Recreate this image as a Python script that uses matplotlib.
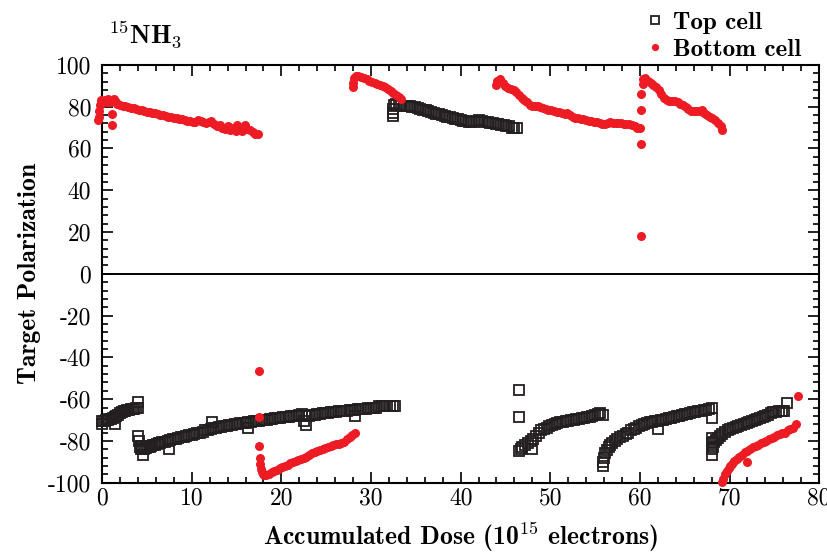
import numpy as np
import matplotlib.pyplot as plt
from matplotlib.ticker import MultipleLocator, FuncFormatter
from matplotlib.transforms import ScaledTranslation

plt.rcParams['font.family'] = 'cmr10'
plt.rcParams['mathtext.fontset'] = 'cm'
plt.rcParams['axes.unicode_minus'] = False
plt.rcParams['axes.formatter.use_mathtext'] = True

# Top cell polarization vs accumulated dose (one row per anneal/run)
top_dose = [
    0.0, 0.0, 0.2, 0.4, 0.6, 0.8, 1.0, 1.2, 1.4, 1.4, 1.6, 1.8, 2.0, 2.2, 2.4, 2.6, 2.8, 3.0, 3.2, 3.4, 3.6, 3.8, 4.0, 4.0,
    4.0, 4.1, 4.2, 4.3, 4.5, 4.6, 4.7, 4.9, 5.1, 5.3, 5.5, 5.7, 5.9, 6.1, 6.3, 6.5, 6.7, 7.0, 7.3, 7.5, 7.6, 7.9, 8.2, 8.5,
    8.8, 9.1, 9.4, 9.7, 10.0, 10.3, 10.6, 10.9, 11.2, 11.5, 11.8, 12.1, 12.3, 12.4, 12.7, 13.0, 13.3, 13.6, 13.9, 14.2,
    14.5, 14.8, 15.1, 15.4, 15.7, 16.0, 16.3, 16.3, 16.6, 16.9, 17.2, 17.5, 17.8, 18.1, 18.4, 18.7, 19.0, 19.3, 19.6,
    19.9, 20.2, 20.5, 20.8, 21.1, 21.4, 21.7, 22.0, 22.3, 22.5, 22.8, 22.8, 23.1, 23.4, 23.7, 24.0, 24.3, 24.6, 24.9,
    25.2, 25.5, 25.8, 26.1, 26.4, 26.7, 27.0, 27.3, 27.6, 27.9, 28.2, 28.2, 28.5, 28.8, 29.1, 29.4, 29.7, 30.0, 30.3,
    30.6, 30.9, 31.2, 31.5, 31.8, 32.1, 32.4, 32.7,
    32.4, 32.4, 32.5, 32.6, 32.8, 33.1, 33.4, 33.7, 34.0, 34.3, 34.6, 34.9, 35.2, 35.5, 35.8, 36.1, 36.4, 36.7, 37.0,
    37.3, 37.6, 37.9, 38.2, 38.5, 38.8, 39.1, 39.4, 39.7, 40.0, 40.3, 40.6, 40.9, 41.2, 41.5, 41.8, 42.1, 42.4, 42.7,
    43.0, 43.3, 43.6, 43.9, 44.2, 44.5, 44.8, 45.1, 45.4, 45.7, 46.0, 46.3,
    46.5, 46.5, 46.5, 46.7, 46.9, 47.2, 47.5, 47.8, 48.0, 48.1, 48.4, 48.7, 49.0, 49.3, 49.6, 49.9, 50.2, 50.5, 50.8,
    51.1, 51.4, 51.7, 52.0, 52.3, 52.6, 52.9, 53.2, 53.5, 53.8, 54.1, 54.4, 54.7, 55.0, 55.3, 55.6, 55.9,
    55.9, 55.9, 56.0, 56.1, 56.3, 56.5, 56.7, 56.9, 57.2, 57.5, 57.8, 58.1, 58.4, 58.7, 59.0, 59.3, 59.6, 59.9, 60.2,
    60.5, 60.8, 61.1, 61.4, 61.7, 62.0, 62.0, 62.3, 62.6, 62.9, 63.2, 63.5, 63.8, 64.1, 64.4, 64.7, 65.0, 65.3, 65.6,
    65.9, 66.2, 66.5, 66.8, 67.1, 67.4, 67.7, 68.0, 68.0,
    68.0, 68.0, 68.0, 68.1, 68.2, 68.3, 68.5, 68.7, 68.9, 69.2, 69.5, 69.8, 70.1, 70.4, 70.7, 71.0, 71.3, 71.6, 71.9,
    72.2, 72.5, 72.8, 73.1, 73.4, 73.7, 74.0, 74.3, 74.6, 74.9, 75.2, 75.5, 75.8, 76.1, 76.4,
]
top_pol = [
    -70.5, -72.0, -70.5, -70.0, -70.0, -69.5, -69.5, -69.0, -68.5, -72.0, -68.0, -67.5, -66.5, -66.0, -65.5, -65.5, -65.0,
    -65.0, -64.5, -64.5, -64.5, -64.0, -64.0, -61.5,
    -77.5, -80.0, -83.0, -84.0, -82.5, -86.5, -84.0, -83.5, -83.0, -83.0, -82.5, -82.0, -82.0, -81.5, -81.0, -81.0, -80.5,
    -80.5, -80.0, -84.0, -79.5, -79.0, -79.0, -78.5, -78.0, -78.0, -77.5, -77.0, -77.0, -76.5, -76.0, -76.0, -75.5, -75.0,
    -75.0, -74.5, -71.0, -74.0, -74.0, -73.5, -73.5, -73.0, -73.0, -72.5, -72.5, -72.0, -72.0, -71.5, -71.5, -71.5, -71.0,
    -74.0, -71.0, -70.5, -70.5, -70.5, -70.0, -70.0, -70.0, -69.5, -69.5, -69.0, -69.0, -69.0, -68.5, -68.5, -68.5, -68.0,
    -68.0, -68.0, -67.5, -67.0, -70.5, -72.5, -68.0, -68.0, -67.5, -67.5, -67.0, -67.0, -66.5, -66.5, -66.5, -66.0, -66.0,
    -66.0, -65.5, -65.5, -65.5, -65.5, -65.0, -65.0, -68.0, -65.0, -64.5, -64.5, -64.5, -64.5, -64.0, -64.0, -64.0, -64.0,
    -63.5, -63.5, -63.5, -63.5, -63.5, -63.5, -63.5,
    75.5, 77.0, 79.0, 81.0, 81.5, 81.0, 80.5, 80.5, 80.5, 80.5, 80.0, 80.0, 79.5, 79.0, 78.5, 78.5, 78.0, 77.5, 77.0,
    76.5, 76.5, 76.0, 75.5, 75.0, 75.0, 74.5, 74.0, 74.0, 73.5, 73.0, 73.0, 72.5, 72.5, 72.5, 73.0, 73.5, 73.0, 72.5,
    72.5, 72.0, 72.0, 71.5, 71.5, 71.0, 71.0, 70.5, 70.5, 70.0, 70.0, 70.0,
    -55.5, -68.5, -85.0, -84.0, -83.0, -82.0, -81.0, -80.0, -84.0, -79.0, -77.5, -76.0, -75.0, -74.5, -74.0, -73.0, -72.5,
    -72.0, -71.5, -71.0, -71.0, -70.5, -70.5, -70.0, -70.0, -69.5, -69.5, -69.0, -69.0, -68.5, -68.5, -68.0, -67.5, -67.0,
    -66.5, -67.5,
    -92.0, -90.0, -88.0, -86.0, -84.5, -83.0, -82.0, -81.0, -80.0, -79.0, -78.0, -77.5, -76.5, -76.0, -75.0, -74.5, -74.0,
    -73.0, -72.5, -72.0, -71.5, -71.0, -71.0, -70.5, -70.5, -74.5, -70.0, -70.0, -69.5, -69.0, -69.0, -68.5, -68.0, -68.0,
    -67.5, -67.0, -67.0, -66.5, -66.0, -66.0, -65.5, -65.5, -65.0, -65.0, -64.5, -64.0, -69.0,
    -78.5, -81.0, -84.0, -86.5, -83.0, -80.5, -79.5, -78.5, -77.5, -76.5, -75.5, -75.0, -74.5, -74.0, -73.5, -73.0, -72.5,
    -72.0, -71.5, -71.0, -70.5, -70.0, -69.5, -69.0, -68.5, -68.0, -67.5, -66.5, -66.0, -66.0, -65.5, -65.5, -65.5, -62.0,
]

# Bottom cell polarization vs accumulated dose
bottom_dose = [
    -0.5, -0.4, -0.3, -0.2, -0.1, 0.1, 0.3, 0.5, 0.7, 0.9, 1.1, 1.1, 1.3, 1.5, 1.7, 2.0, 2.3, 2.6, 2.9, 3.2, 3.5, 3.8,
    4.1, 4.4, 4.7, 5.0, 5.3, 5.6, 5.9, 6.2, 6.5, 6.8, 7.1, 7.4, 7.7, 8.0, 8.3, 8.6, 8.9, 9.2, 9.5, 9.8, 10.1, 10.4, 10.7,
    11.0, 11.3, 11.6, 11.9, 12.2, 12.5, 12.8, 13.1, 13.4, 13.7, 14.0, 14.3, 14.6, 14.9, 15.1, 15.3, 15.6, 15.9, 16.2,
    16.5, 16.8, 17.1, 17.4,
    17.5, 17.5, 17.5, 17.6, 17.65, 17.7, 17.8, 17.9, 18.1, 18.3, 18.6, 18.9, 19.2, 19.5, 19.8, 20.1, 20.4, 20.7, 21.0,
    21.3, 21.6, 21.9, 22.2, 22.5, 22.8, 23.1, 23.4, 23.7, 24.0, 24.3, 24.6, 24.9, 25.2, 25.5, 25.8, 26.1, 26.4, 26.7,
    27.0, 27.3, 27.6, 27.9, 28.2,
    28.0, 28.0, 28.1, 28.3, 28.6, 28.9, 29.2, 29.5, 29.8, 30.1, 30.4, 30.7, 31.0, 31.3, 31.6, 31.9, 32.2, 32.5, 32.8,
    33.1, 33.4,
    43.9, 44.1, 44.4, 44.7, 45.0, 45.3, 45.6, 45.9, 46.2, 46.5, 46.8, 47.1, 47.4, 47.7, 48.0, 48.3, 48.6, 48.9, 49.2,
    49.5, 49.8, 50.1, 50.4, 50.7, 51.0, 51.3, 51.6, 51.9, 52.2, 52.5, 52.8, 53.1, 53.4, 53.7, 54.0, 54.3, 54.6, 54.9,
    55.2, 55.5, 55.8, 56.1, 56.4, 56.7, 57.0, 57.3, 57.6, 57.9, 58.2, 58.5, 58.8, 59.1, 59.4, 59.7, 60.0,
    60.1, 60.1, 60.1, 60.1, 60.3, 60.4, 60.6, 60.9, 61.2, 61.5, 61.8, 62.1, 62.4, 62.7, 63.0, 63.3, 63.6, 63.9, 64.2,
    64.5, 64.8, 65.1, 65.4, 65.7, 66.0, 66.3, 66.6, 66.9, 67.2, 67.5, 67.8, 68.1, 68.4, 68.7, 69.0, 69.2,
    69.2, 69.3, 69.5, 69.7, 69.9, 70.1, 70.3, 70.5, 70.8, 71.1, 71.4, 71.7, 71.9, 72.0, 72.3, 72.6, 72.9, 73.2, 73.5,
    73.8, 74.1, 74.4, 74.7, 75.0, 75.3, 75.6, 75.9, 76.2, 76.5, 76.8, 77.1, 77.4, 77.6,
]
bottom_pol = [
    73.5, 75.0, 78.0, 81.0, 83.0, 82.5, 83.0, 82.0, 83.5, 82.0, 76.5, 71.0, 83.5, 82.0, 81.5, 81.0, 80.5, 80.5, 80.0,
    79.5, 79.5, 79.0, 78.5, 78.5, 78.0, 77.5, 77.5, 77.0, 76.8, 76.5, 76.0, 75.8, 75.5, 75.2, 75.0, 74.8, 74.5, 74.2,
    74.0, 73.5, 73.2, 73.0, 72.5, 72.8, 73.5, 73.0, 72.5, 72.0, 72.5, 73.0, 71.5, 70.5, 71.0, 70.0, 69.5, 70.5, 69.0,
    70.0, 68.5, 71.0, 69.0, 68.5, 71.0, 69.5, 69.0, 68.0, 67.0, 67.0,
    -46.5, -68.5, -82.5, -88.0, -91.0, -93.5, -95.0, -96.0, -96.5, -96.5, -96.0, -95.0, -94.5, -94.0, -93.0, -92.5,
    -92.0, -91.5, -90.5, -90.0, -89.5, -89.0, -88.5, -88.0, -87.5, -86.5, -86.0, -85.5, -85.0, -84.5, -84.0, -83.5,
    -83.0, -82.5, -82.0, -81.5, -81.5, -81.0, -80.5, -79.0, -78.0, -77.0, -76.0,
    89.5, 91.5, 93.5, 94.5, 94.5, 94.0, 93.5, 93.0, 92.5, 92.0, 91.5, 91.0, 90.5, 90.0, 89.5, 88.5, 87.5, 86.5, 85.5,
    84.5, 83.5,
    90.5, 92.5, 93.0, 91.5, 90.0, 89.0, 88.5, 88.0, 87.0, 85.5, 84.0, 83.0, 82.0, 81.0, 80.5, 80.5, 80.5, 80.0, 79.5,
    79.0, 78.5, 78.5, 78.0, 77.5, 77.5, 77.0, 76.5, 77.0, 76.0, 75.0, 74.5, 74.5, 74.0, 74.0, 73.5, 73.0, 73.0, 72.5,
    72.5, 72.0, 71.5, 71.5, 72.0, 72.5, 72.0, 72.0, 72.0, 72.0, 71.5, 71.5, 71.5, 71.0, 70.5, 70.0, 70.0,
    62.0, 18.0, 78.5, 86.0, 91.0, 93.0, 93.5, 92.5, 91.5, 90.5, 89.5, 88.0, 86.0, 84.0, 83.0, 82.5, 82.5, 82.5, 82.0,
    81.5, 81.0, 80.0, 79.0, 78.0, 78.0, 78.0, 78.0, 78.5, 77.0, 76.0, 75.0, 74.5, 73.5, 72.0, 70.5, 69.0,
    -99.5, -98.0, -96.0, -94.5, -93.0, -92.0, -91.0, -89.5, -88.5, -87.5, -86.5, -85.5, -90.0, -85.0, -84.0, -83.0,
    -82.5, -82.0, -81.0, -80.5, -80.0, -79.0, -78.5, -78.0, -77.0, -76.5, -76.0, -76.0, -75.0, -74.5, -74.0, -72.0, -58.5,
]

fig = plt.figure(figsize=(8.27, 5.52), dpi=100)
ax = fig.add_axes([0.1235, 0.1255, 0.867, 0.757])

ax.plot(top_dose, top_pol, ls='none', marker='s', ms=6.5, mfc='none',
        mec='#231f20', mew=1.3, clip_on=False, label='Top cell', zorder=3)
ax.plot(bottom_dose, bottom_pol, ls='none', marker='o', ms=6.5, mfc='#ed1c24',
        mec='#ed1c24', mew=0, clip_on=False, label='Bottom cell', zorder=4)
ax.axhline(0, color='black', lw=1.4, zorder=2)

ax.set_xlim(0, 80)
ax.set_ylim(-100, 100)
ax.xaxis.set_major_locator(MultipleLocator(10))
ax.xaxis.set_minor_locator(MultipleLocator(2))
ax.yaxis.set_major_locator(MultipleLocator(20))
ax.yaxis.set_minor_locator(MultipleLocator(4))
ax.xaxis.set_major_formatter(FuncFormatter(lambda v, p: '%d' % v))
ax.yaxis.set_major_formatter(FuncFormatter(lambda v, p: '%d' % v))
ax.tick_params(which='both', direction='in', top=True, right=True, width=1.2,
               labelsize=17)
ax.tick_params(axis='x', pad=3)
ax.tick_params(axis='y', pad=8)
ax.tick_params(which='major', length=8)
ax.tick_params(which='minor', length=4.5)
for s in ax.spines.values():
    s.set_linewidth(1.5)

# keep the last x tick label inside the figure
fig.canvas.draw()
last = ax.xaxis.get_major_ticks()[-1].label1
last.set_transform(last.get_transform() + ScaledTranslation(-3 / 72, 0, fig.dpi_scale_trans))

ax.set_xlabel(r'Accumulated Dose (10$^{\mathbf{15}}$ electrons)', family='cmb10',
              fontsize=18.5, labelpad=8)
ax.set_ylabel('Target Polarization', family='cmb10', fontsize=18.5, labelpad=5)

fig.text(0.131, 0.9366, r'$^{\mathbf{15}}\mathbf{NH}_{\mathbf{3}}$', fontsize=19,
         ha='left', va='center')

leg = ax.legend(loc='upper left', bbox_to_anchor=(0.783, 0.9795),
                bbox_transform=fig.transFigure, frameon=False, handlelength=0.6,
                handletextpad=0.4, labelspacing=0.18, borderaxespad=0, borderpad=0,
                markerscale=0.8, prop={'family': 'cmb10', 'size': 18})

fig.savefig('out.png', dpi=100)
